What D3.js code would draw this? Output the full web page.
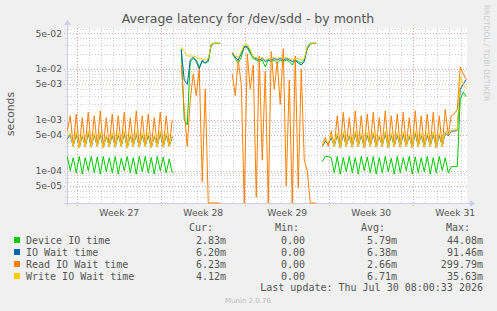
<!DOCTYPE html>
<html><head><meta charset="utf-8">
<script src="https://cdn.jsdelivr.net/npm/d3@7"></script>
<style>body{margin:0;background:#F0F0F0;overflow:hidden}</style>
</head><body><svg id="c" width="497" height="311"></svg>
<script>
// ---- data (values in milliseconds, one sample every 6 hours) ----
const startTime = Date.UTC(2026, 5, 28, 4, 0);
const stepHours = 6;
const deviceIO = [
0.19,0.10,0.18,0.09,0.19,0.085,0.18,0.10,0.19,0.09,0.185,0.085,0.19,0.095,0.18,0.09,0.19,0.085,0.175,0.10,0.19,0.09,0.18,0.085,0.19,0.095,0.19,0.09,0.18,0.085,0.19,0.10,0.185,0.09,0.17,0.09,
null,null,
25,1.0,0.8,14,16,15,11,14,13,14,30,32,32,32,
null,null,null,
20,16,13,17,28,26,20,16,15,14,15,11,15,14,15,13,15,14,15,14,12,15,14,13,15,25,31,32,32,
null,
0.15,0.19,0.19,0.18,
0.09,0.19,0.085,0.18,0.095,0.19,0.09,0.18,0.085,0.19,0.10,0.185,0.09,0.19,0.085,0.18,0.09,0.19,0.095,0.175,0.085,0.19,0.09,0.18,0.10,0.19,0.085,0.185,0.09,0.18,0.095,0.19,0.085,0.18,0.09,0.19,0.10,0.18,0.09,
0.12,0.12,0.12,2.5,3.5,2.83];
const ioWait = [
0.42,0.5,0.3,0.52,0.28,0.48,0.3,0.54,0.29,0.5,0.3,0.52,0.28,0.47,0.3,0.5,0.29,0.5,0.3,0.54,0.28,0.48,0.3,0.52,0.29,0.5,0.3,0.5,0.28,0.47,0.3,0.54,0.29,0.5,0.3,0.46,
null,null,
24,6,5,15,17,14,10,15,13,15,30,32,32,32,
null,null,null,
21,17,15,20,27,28,22,17,16,15,16,14,15,15,16,15,16,15,16,15,14,15,13,12,14,26,32,32,32,
null,
0.3,0.38,0.33,0.45,
0.3,0.5,0.28,0.52,0.3,0.48,0.29,0.54,0.3,0.5,0.28,0.5,0.3,0.52,0.29,0.47,0.3,0.54,0.28,0.5,0.3,0.5,0.29,0.52,0.3,0.48,0.28,0.54,0.3,0.5,0.29,0.5,0.3,0.52,0.28,0.5,0.3,0.55,0.48,
0.6,0.6,0.62,4,5,6.2];
const readIOWait = [
0.6,1.2,0.3,1.3,0.28,1.1,0.3,1.4,0.29,1.2,0.3,1.5,0.28,1.1,0.3,1.3,0.29,1.2,0.3,1.4,0.28,1.1,0.3,1.5,0.29,1.2,0.3,1.3,0.28,1.1,0.3,1.4,0.29,1.2,0.3,1.0,
null,null,
12,1.5,0.3,2.5,8,3,10,0.06,4,0,0,0,0,0,
null,null,null,
8,3,15,5,0,20,4,12,0.03,18,0.16,9,0,22,4,14,2,25,0.05,6,0,18,0.045,10,0.16,0.1,0,0,0,
null,
0.3,0.45,0.3,0.6,
0.3,1.2,0.28,1.4,0.3,1.1,0.29,1.5,0.3,1.2,0.28,1.3,0.3,1.4,0.29,1.1,0.3,1.5,0.28,1.2,0.3,1.3,0.29,1.4,0.3,1.1,0.28,1.5,0.3,1.2,0.29,1.3,0.3,1.4,0.28,1.2,0.3,1.6,0.5,
1.2,1.3,1.6,11,8,6.23];
const writeIOWait = [
0.45,0.55,0.3,0.58,0.28,0.52,0.3,0.6,0.29,0.55,0.3,0.58,0.28,0.5,0.3,0.56,0.29,0.55,0.3,0.6,0.28,0.52,0.3,0.58,0.29,0.55,0.3,0.56,0.28,0.5,0.3,0.6,0.29,0.55,0.3,0.5,
null,null,
27,22,18,18,18,17,16,16,15,16,31,32,32,32,
null,null,null,
22,18,17,22,30,30,24,17,17,16,17,15,16,16,17,16,17,16,17,16,15,16,16,15,16,28,32,32,32,
null,
0.32,0.4,0.35,0.5,
0.3,0.55,0.28,0.58,0.3,0.52,0.29,0.6,0.3,0.55,0.28,0.56,0.3,0.58,0.29,0.5,0.3,0.6,0.28,0.55,0.3,0.56,0.29,0.58,0.3,0.52,0.28,0.6,0.3,0.55,0.29,0.56,0.3,0.58,0.28,0.55,0.3,0.6,0.5,
0.62,0.63,0.63,7,5,4.12];

const seriesNames = ["Device IO time", "IO Wait time", "Read IO Wait time", "Write IO Wait time"];
const curVals = ["2.83m", "6.20m", "6.23m", "4.12m"];
const minVals = ["0.00", "0.00", "0.00", "0.00"];
const avgVals = ["5.79m", "6.38m", "2.66m", "6.71m"];
const maxVals = ["44.08m", "91.46m", "299.79m", "35.63m"];
const yTickValues = [5e-2, 1e-2, 5e-3, 1e-3, 5e-4, 1e-4, 5e-5];
const titleText = "Average latency for /dev/sdd - by month";
const lastUpdate = "Last update: Thu Jul 30 08:00:33 2026";

// ---- drawing ----
const colors = ["#00CC00", "#0066B3", "#FF8000", "#FFCC00"];
const allSeries = [deviceIO, ioWait, readIOWait, writeIOWait];
const L = 67, R = 467, T = 28, B = 203;
const domainStart = new Date(Date.UTC(2026, 5, 28, 3, 30));
const domainEnd = new Date(domainStart.getTime() + 800 * 3600e3);
const x = d3.scaleUtc().domain([domainStart, domainEnd]).range([L, R]);
const y = d3.scaleLog().domain([2.3e-5, 0.064]).range([B, T]).clamp(true);

const svg = d3.select("#c");
svg.append("rect").attr("width", 497).attr("height", 311).attr("fill", "#F0F0F0");
svg.append("rect").attr("x", L).attr("y", T).attr("width", R - L).attr("height", B - T).attr("fill", "#FFFFFF");

const FONT = "DejaVu Sans, sans-serif";
const MONO = "DejaVu Sans Mono, monospace";
const gridGray = "#CFCFCF", gridRed = "#E6A0A0";

// horizontal grid
const minorY = [];
for (let k = -5; k <= -2; k++) for (let m = 1; m <= 9; m++) {
  const v = m * Math.pow(10, k);
  if (v >= y.domain()[0] && v <= y.domain()[1]) minorY.push({v, major: (m === 1 || m === 5)});
}
const g = svg.append("g");
minorY.filter(d => !d.major).forEach(d => {
  const yy = Math.round(y(d.v)) + 0.5;
  g.append("line").attr("x1", L - 2).attr("x2", R).attr("y1", yy).attr("y2", yy)
    .attr("stroke", gridGray).attr("stroke-dasharray", "1,2");
});
// vertical grid: days (minor) and weeks (major)
const days = d3.utcDay.range(domainStart, domainEnd);
days.forEach(d => {
  const xx = Math.round(x(d)) + 0.5;
  g.append("line").attr("x1", xx).attr("x2", xx).attr("y1", T).attr("y2", B + 2)
    .attr("stroke", gridGray).attr("stroke-dasharray", "1,2");
});
const weeks = d3.utcMonday.range(domainStart, domainEnd);
weeks.forEach(d => {
  const xx = Math.round(x(d)) + 0.5;
  g.append("line").attr("x1", xx).attr("x2", xx).attr("y1", T).attr("y2", B + 3)
    .attr("stroke", gridRed).attr("stroke-dasharray", "1,2");
});
minorY.filter(d => d.major).forEach(d => {
  const yy = Math.round(y(d.v)) + 0.5;
  g.append("line").attr("x1", L - 3).attr("x2", R).attr("y1", yy).attr("y2", yy)
    .attr("stroke", gridRed).attr("stroke-dasharray", "1,2");
});

// axes lines with arrows
const axisColor = "#C9CDEB";
svg.append("line").attr("x1", L - 3).attr("x2", R + 3).attr("y1", B + 0.5).attr("y2", B + 0.5).attr("stroke", axisColor);
svg.append("line").attr("x1", L + 0.5).attr("x2", L + 0.5).attr("y1", B + 3).attr("y2", T - 3).attr("stroke", axisColor);
svg.append("path").attr("d", `M${R + 3},${B - 3} L${R + 8},${B + 0.5} L${R + 3},${B + 4} Z`).attr("fill", axisColor);
svg.append("path").attr("d", `M${L - 3},${T - 3} L${L + 0.5},${T - 8} L${L + 4},${T - 3} Z`).attr("fill", axisColor);

// y tick labels
const fmtY = v => { const s = v.toExponential(0); const [m, e] = s.split("e"); const sign = e[0]; const ex = e.slice(1).padStart(2, "0"); return m + "e" + sign + ex; };
svg.append("g").selectAll("text").data(yTickValues).join("text")
  .attr("x", L - 5).attr("y", d => y(d)).attr("dy", "0.35em")
  .attr("text-anchor", "end").attr("font-family", FONT).attr("font-size", 9.2).attr("fill", "#555")
  .text(fmtY);

// x labels: centered in each week
const fmtWeek = d3.utcFormat("Week %V");
const labelDates = weeks.concat([d3.utcMonday.offset(weeks[0], -1)]).map(d => new Date(d.getTime() + 3.5 * 864e5))
  .filter(d => d >= domainStart && d <= domainEnd);
svg.append("g").selectAll("text").data(labelDates).join("text")
  .attr("x", d => x(d)).attr("y", 215.5).attr("text-anchor", "middle")
  .attr("font-family", FONT).attr("font-size", 9.2).attr("fill", "#555")
  .text(d => fmtWeek(new Date(d.getTime() - 3.5 * 864e5)));

// series lines
svg.append("clipPath").attr("id", "clip").append("rect").attr("x", L).attr("y", T).attr("width", R - L + 1).attr("height", B - T + 1);
const line = d3.line()
  .defined(d => d.v !== null)
  .x(d => x(d.t)).y(d => y(Math.max(d.v * 1e-3, 1e-9)));
const plot = svg.append("g").attr("clip-path", "url(#clip)");
allSeries.forEach((arr, si) => {
  const pts = arr.map((v, i) => ({t: new Date(startTime + i * stepHours * 3600e3), v}));
  plot.append("path").datum(pts).attr("d", line).attr("fill", "none")
    .attr("stroke", colors[si]).attr("stroke-width", 1);
});

// title
svg.append("text").attr("x", 248).attr("y", 23).attr("text-anchor", "middle")
  .attr("font-family", FONT).attr("font-size", 12.5).attr("fill", "#555").text(titleText);
// y label
svg.append("text").attr("transform", "translate(14,114) rotate(-90)").attr("text-anchor", "middle")
  .attr("font-family", FONT).attr("font-size", 10.8).attr("fill", "#555").text("seconds");
// watermark
svg.append("text").attr("transform", "translate(484,53) rotate(90)").attr("text-anchor", "middle")
  .attr("font-family", FONT).attr("font-size", 7.5).attr("fill", "#CCCCCC").text("RRDTOOL / TOBI OETIKER");

// legend
const lg = svg.append("g").attr("font-family", MONO).attr("font-size", 10).attr("fill", "#555");
const headers = [["Cur:", 213], ["Min:", 299], ["Avg:", 385], ["Max:", 470]];
headers.forEach(([t, xx]) => lg.append("text").attr("x", xx).attr("y", 231).attr("text-anchor", "end").text(t));
seriesNames.forEach((name, i) => {
  const yy = 243.5 + i * 12;
  svg.append("rect").attr("x", 14).attr("y", yy - 6.5).attr("width", 6).attr("height", 6).attr("fill", colors[i]);
  lg.append("text").attr("x", 26).attr("y", yy).text(name);
  lg.append("text").attr("x", 226).attr("y", yy).attr("text-anchor", "end").text(curVals[i]);
  lg.append("text").attr("x", 305).attr("y", yy).attr("text-anchor", "end").text(minVals[i]);
  lg.append("text").attr("x", 397).attr("y", yy).attr("text-anchor", "end").text(avgVals[i]);
  lg.append("text").attr("x", 483).attr("y", yy).attr("text-anchor", "end").text(maxVals[i]);
});
lg.append("text").attr("x", 483).attr("y", 291).attr("text-anchor", "end").text(lastUpdate);
svg.append("text").attr("x", 248).attr("y", 303).attr("text-anchor", "middle")
  .attr("font-family", FONT).attr("font-size", 7).attr("fill", "#BBBBBB").text("Munin 2.0.76");
</script></body></html>
